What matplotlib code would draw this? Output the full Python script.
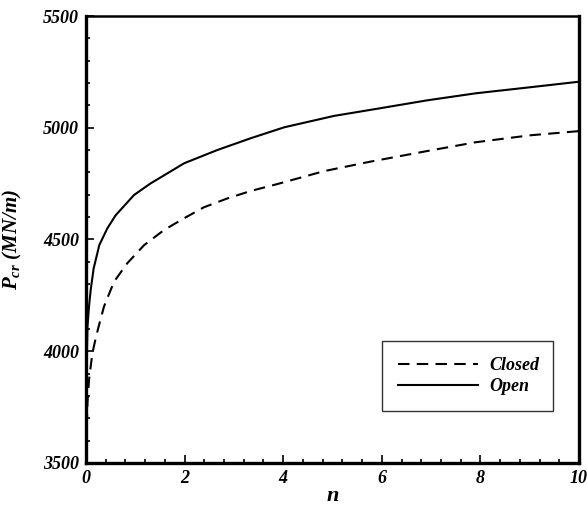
import matplotlib
matplotlib.use("Agg")
import matplotlib.pyplot as plt
from matplotlib.ticker import MultipleLocator, AutoMinorLocator

plt.rcParams['font.family'] = 'Liberation Serif'
plt.rcParams['font.weight'] = 'bold'
plt.rcParams['font.style'] = 'italic'
plt.rcParams['mathtext.fontset'] = 'custom'
plt.rcParams['mathtext.it'] = 'Liberation Serif:style=italic:weight=bold'
plt.rcParams['mathtext.rm'] = 'Liberation Serif:style=italic:weight=bold'
plt.rcParams['mathtext.bf'] = 'Liberation Serif:style=italic:weight=bold'

# Critical buckling load vs. power-law index n
n_open = [0.0, 0.005, 0.015, 0.03, 0.061, 0.095, 0.155, 0.27, 0.433, 0.6,
          0.974, 1.31, 1.5, 1.99, 2.66, 3.34, 4.02, 5.03, 5.96, 6.9, 7.9,
          9.0, 10.0]
p_open = [3500, 3700, 3950, 4110, 4200, 4274, 4370, 4475, 4550, 4608,
          4699, 4751, 4776, 4841, 4900, 4953, 5002, 5053, 5087, 5122, 5154,
          5181, 5206]

n_closed = [0.0, 0.01, 0.03, 0.061, 0.095, 0.128, 0.197, 0.25, 0.365, 0.568,
            0.838, 1.18, 1.58, 1.99, 2.39, 2.87, 3.34, 3.88, 4.83, 5.76,
            6.9, 7.9, 9.0, 10.0]
p_closed = [3500, 3620, 3770, 3871, 3931, 3990, 4058, 4105, 4200, 4311,
            4394, 4475, 4542, 4595, 4644, 4684, 4717, 4748, 4806, 4848,
            4895, 4935, 4966, 4985]

x_range = (0, 10)
y_range = (3500, 5500)

fig = plt.figure(figsize=(5.87, 5.05), dpi=100)
ax = fig.add_axes([0.1465, 0.0832, 0.8399, 0.8851])

ax.plot(n_closed, p_closed, color='black', lw=1.5, linestyle=(0, (5.5, 3.5)),
        label='Closed')
ax.plot(n_open, p_open, color='black', lw=1.5, linestyle='-', label='Open')

ax.set_xlim(*x_range)
ax.set_ylim(*y_range)
ax.xaxis.set_major_locator(MultipleLocator(2))
ax.xaxis.set_minor_locator(AutoMinorLocator(5))
ax.yaxis.set_major_locator(MultipleLocator(500))
ax.yaxis.set_minor_locator(AutoMinorLocator(5))
ax.tick_params(which='both', direction='in', top=False, right=False,
               labelsize=13, width=1.2, pad=5)
ax.tick_params(which='major', length=6)
ax.tick_params(which='minor', length=3)

for lab in ax.get_xticklabels() + ax.get_yticklabels():
    lab.set_fontweight('bold')
    lab.set_fontstyle('italic')

for side in ['left', 'bottom', 'right']:
    ax.spines[side].set_linewidth(2.4)
ax.spines['top'].set_linewidth(1.8)

ax.set_xlabel('n', fontsize=16, fontweight='bold', fontstyle='italic',
              labelpad=-1)
ax.set_ylabel(r'P$_{cr}$ (MN/m)', fontsize=15, fontweight='bold',
              fontstyle='italic', labelpad=14)

leg = ax.legend(loc='lower left', bbox_to_anchor=(0.6, 0.116, 0.347, 0.161),
                mode='expand', fontsize=13, frameon=True, fancybox=False,
                edgecolor='black', handlelength=4.4, handletextpad=0.67,
                borderpad=0.9, labelspacing=0.2, borderaxespad=0)
leg.get_frame().set_linewidth(1.0)

fig.savefig('out.png', dpi=100)
